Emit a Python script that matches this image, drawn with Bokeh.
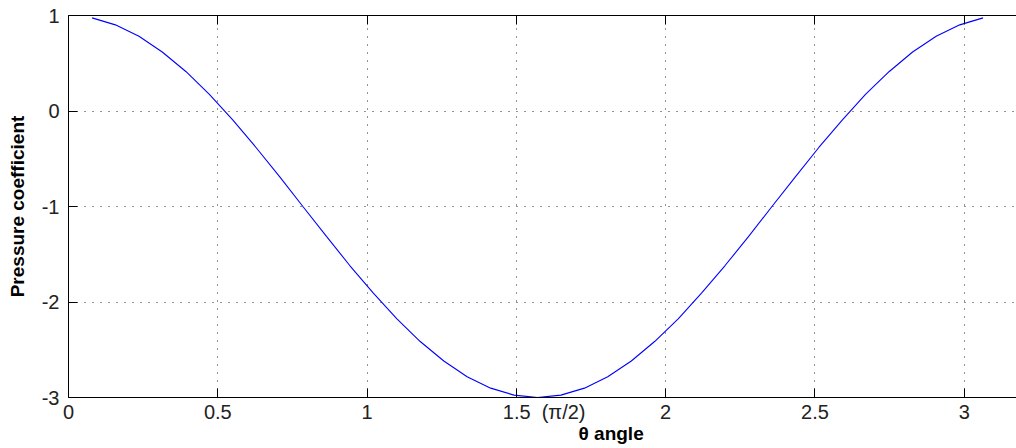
from bokeh.plotting import figure
from bokeh.models import Range1d, FixedTicker, LinearAxis
from bokeh.embed import file_html
from bokeh.resources import INLINE

# Angle (rad) and pressure coefficient
theta = [0.079, 0.157, 0.236, 0.314, 0.393, 0.471, 0.550, 0.628, 0.707, 0.785,
         0.864, 0.942, 1.021, 1.100, 1.178, 1.257, 1.335, 1.414, 1.492, 1.571,
         1.649, 1.728, 1.806, 1.885, 1.963, 2.042, 2.120, 2.199, 2.278, 2.356,
         2.435, 2.513, 2.592, 2.670, 2.749, 2.827, 2.906, 2.985, 3.063]
cp = [0.975, 0.902, 0.782, 0.618, 0.414, 0.176, -0.092, -0.382, -0.687, -1.000,
      -1.313, -1.618, -1.908, -2.176, -2.414, -2.618, -2.782, -2.902, -2.975, -3.000,
      -2.975, -2.902, -2.782, -2.618, -2.414, -2.176, -1.908, -1.618, -1.313, -1.000,
      -0.687, -0.382, -0.092, 0.176, 0.414, 0.618, 0.782, 0.902, 0.975]

x_ticks = [0, 0.5, 1, 1.5, 2, 2.5, 3]
y_ticks = [-3, -2, -1, 0, 1]
y_tick_labels = ["-3", "-2", "-1", "0", "1"]
x_title = "θ angle"
y_title = "Pressure coefficient"
pi_note = "(π/2)"

FONT = "Liberation Sans"
NB = "\u00a0"

p = figure(width=1016, height=448, output_backend="svg", toolbar_location=None,
           x_range=Range1d(0, 3.175), y_range=Range1d(-3, 1),
           min_border_left=68, min_border_right=0, min_border_top=15,
           min_border_bottom=51, outline_line_color=None,
           background_fill_color="white", border_fill_color="white")

p.line(theta, cp, line_color="#0000ff", line_width=1.1)

for ax in (p.xaxis[0], p.yaxis[0]):
    ax.axis_line_color = "black"
    ax.axis_line_width = 1
    ax.major_tick_in = 9
    ax.major_tick_out = 0
    ax.minor_tick_line_color = None
    ax.major_tick_line_color = "black"
    ax.major_label_text_font = FONT
    ax.major_label_text_font_size = "20px"
    ax.major_label_text_color = "#222222"
    ax.axis_label_text_font = FONT
    ax.axis_label_text_font_size = "19px"
    ax.axis_label_text_font_style = "bold"
    ax.axis_label_text_color = "black"

xa = p.xaxis[0]
xa.ticker = FixedTicker(ticks=x_ticks)
xa.major_label_standoff = 3
xa.major_label_overrides = {1.5: NB * 10 + "1.5" + NB * 2 + pi_note}
xa.axis_label = NB * 26 + x_title
xa.axis_label_standoff = -3

ya = p.yaxis[0]
ya.ticker = FixedTicker(ticks=y_ticks)
ya.major_label_standoff = 9
ya.major_label_overrides = dict(zip(y_ticks, y_tick_labels))
ya.axis_label = y_title
ya.axis_label_standoff = 11

top = LinearAxis(ticker=FixedTicker(ticks=[], minor_ticks=x_ticks),
                 major_tick_in=0, major_tick_out=0,
                 minor_tick_in=9, minor_tick_out=0, minor_tick_line_color="black",
                 major_label_standoff=0, axis_line_color="black")
p.add_layout(top, "above")

for g in p.grid:
    g.grid_line_color = "black"
    g.grid_line_alpha = 0.85
    g.grid_line_dash = "1 7"
    g.grid_line_width = 1
p.xgrid[0].ticker = FixedTicker(ticks=x_ticks[1:])
p.ygrid[0].ticker = FixedTicker(ticks=y_ticks[1:-1])

open("out.html", "w").write(file_html(p, INLINE))
